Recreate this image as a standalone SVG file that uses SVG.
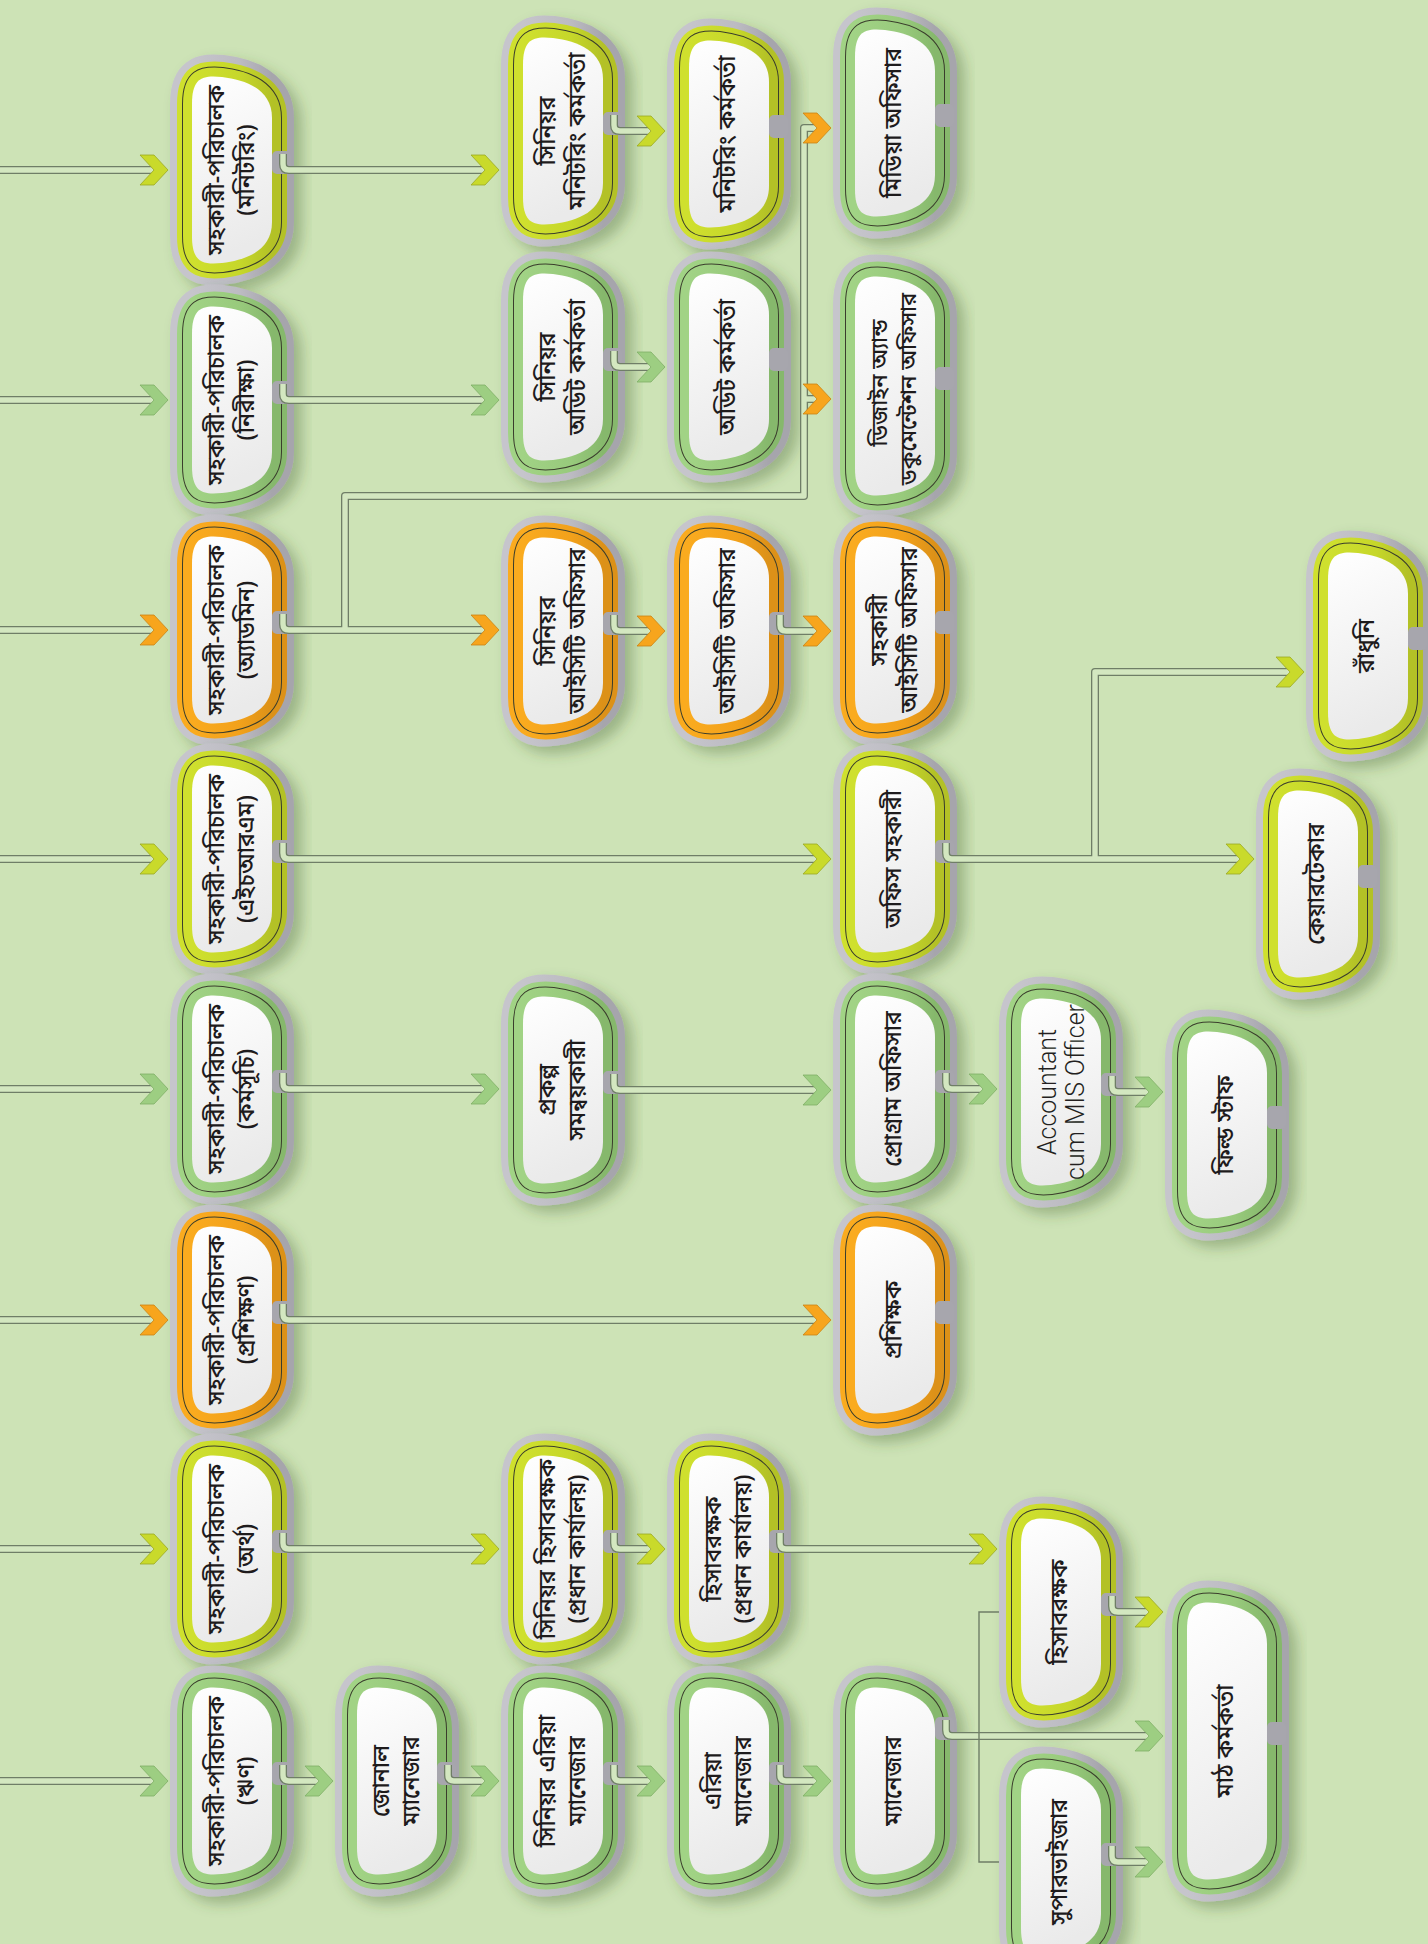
<svg xmlns="http://www.w3.org/2000/svg" width="1428" height="1944" viewBox="0 0 1428 1944">
<style>
  .halo{fill:url(#gHalo);stroke:url(#gHalo);stroke-width:44;stroke-linejoin:round;filter:url(#shadow)}
  .band{fill:none;stroke-width:30;stroke-linejoin:round}
  .band.in{stroke-width:18}
  .rim{fill:none;stroke:#3a3d2c;stroke-width:20;stroke-linejoin:round}
  .face{fill:url(#gFace);stroke:none}
  .notch{fill:#a7a6ad}
  .yellow .band{stroke:url(#gY)}
  .green .band{stroke:url(#gG)}
  .orange .band{stroke:url(#gO)}
  .t{font-family:"Noto Sans Bengali","Noto Serif Bengali","Lohit Bengali","Noto Sans",sans-serif;font-size:23px;font-weight:500;fill:#1e1b1c;text-anchor:middle;dominant-baseline:central}
  .t.sm{font-size:22px}
  .en{font-family:Roboto,"Open Sans",sans-serif;font-weight:300;font-size:25px;fill:#231f20;text-anchor:middle;dominant-baseline:central}
  .pipe-o{fill:none;stroke:#6f7e67;stroke-width:8;stroke-linejoin:round}
  .pipe-i{fill:none;stroke:#d3e7c0;stroke-width:5.4;stroke-linejoin:round}
  .bracket{fill:none;stroke:#6f7e67;stroke-width:1.4}
  .ay{fill:#c9da2b;stroke:#9aa823;stroke-width:0.8}
  .ag{fill:#9dce82;stroke:#7fae66;stroke-width:0.8}
  .ao{fill:#f7a51d;stroke:#c98414;stroke-width:0.8}
</style>
<defs>
  <linearGradient id="gHalo" x1="0" y1="0" x2="1" y2="0">
    <stop offset="0" stop-color="#c6c5cc"/><stop offset="0.6" stop-color="#bcbbc2"/><stop offset="1" stop-color="#a6a5ac"/>
  </linearGradient>
  <linearGradient id="gY" x1="0" y1="0" x2="1" y2="0">
    <stop offset="0" stop-color="#cfe02e"/><stop offset="0.6" stop-color="#c6d72a"/><stop offset="1" stop-color="#b3c126"/>
  </linearGradient>
  <linearGradient id="gG" x1="0" y1="0" x2="1" y2="0">
    <stop offset="0" stop-color="#a1d385"/><stop offset="0.6" stop-color="#98ca7c"/><stop offset="1" stop-color="#86b86c"/>
  </linearGradient>
  <linearGradient id="gO" x1="0" y1="0" x2="1" y2="0">
    <stop offset="0" stop-color="#faab1f"/><stop offset="0.6" stop-color="#f2a11b"/><stop offset="1" stop-color="#dc9118"/>
  </linearGradient>
  <linearGradient id="gFace" x1="0" y1="0" x2="0.2" y2="1">
    <stop offset="0" stop-color="#ffffff"/><stop offset="1" stop-color="#eaeaea"/>
  </linearGradient>
  <filter id="shadow" x="-40%" y="-25%" width="190%" height="160%">
    <feDropShadow dx="8" dy="7" stdDeviation="7" flood-color="#3d5a2a" flood-opacity="0.35"/>
  </filter>
  <!-- node outline, centred on 0,0; the number is half the height of the inner face -->
  <path id="s94" d="M-40,-66 C-40,-92 -30,-95 -10,-93 C15,-90 40,-80 40,-52 V52 C40,80 15,90 -10,93 C-30,95 -40,92 -40,66 Z"/>
  <path id="s110" d="M-40,-82 C-40,-108 -30,-111 -10,-109 C15,-106 40,-96 40,-68 V68 C40,96 15,106 -10,109 C-30,111 -40,108 -40,82 Z"/>
  <path id="s139" d="M-40,-111 C-40,-137 -30,-140 -10,-138 C15,-135 40,-125 40,-97 V97 C40,125 15,135 -10,138 C-30,140 -40,137 -40,111 Z"/>
  <!-- gap in the coloured band where the outgoing line leaves -->
  <rect id="gap" x="40" y="-19" width="19" height="23" rx="5"/>
  <!-- chevron arrowhead, tip at 0,0 -->
  <polygon id="chev" points="-28,-15 -14,-15 0,0 -14,15 -28,15 -14,0"/>
  <!-- connector centre lines -->
  <g id="pipes">
    <path d="M0,170 H154"/><path d="M0,400 H154"/><path d="M0,630 H154"/><path d="M0,859 H154"/>
    <path d="M0,1089 H154"/><path d="M0,1320 H154"/><path d="M0,1549 H154"/><path d="M0,1781 H154"/>
    <path d="M283,154 V164 Q283,170 289,170 H485"/>
    <path d="M614,115 V125 Q614,131 620,131 H651"/>
    <path d="M283,384 V394 Q283,400 289,400 H485"/>
    <path d="M614,351 V361 Q614,367 620,367 H651"/>
    <path d="M283,614 V624 Q283,630 289,630 H485"/>
    <path d="M345,630 V496 H804 V128 H817"/>
    <path d="M804,399 H817"/>
    <path d="M614,615 V625 Q614,631 620,631 H651"/>
    <path d="M780,615 V625 Q780,631 786,631 H817"/>
    <path d="M283,843 V853 Q283,859 289,859 H817"/>
    <path d="M946,843 V853 Q946,859 952,859 H1240"/>
    <path d="M1095,859 V672 H1290"/>
    <path d="M283,1073 V1083 Q283,1089 289,1089 H485"/>
    <path d="M614,1074 V1084 Q614,1090 620,1090 H817"/>
    <path d="M946,1073 V1083 Q946,1089 952,1089 H983"/>
    <path d="M1112,1076 V1086 Q1112,1092 1118,1092 H1149"/>
    <path d="M283,1304 V1314 Q283,1320 289,1320 H817"/>
    <path d="M283,1533 V1543 Q283,1549 289,1549 H485"/>
    <path d="M614,1533 V1543 Q614,1549 620,1549 H651"/>
    <path d="M780,1533 V1543 Q780,1549 786,1549 H983"/>
    <path d="M1112,1596 V1606 Q1112,1612 1118,1612 H1149"/>
    <path d="M283,1765 V1775 Q283,1781 289,1781 H319"/>
    <path d="M448,1765 V1775 Q448,1781 454,1781 H485"/>
    <path d="M614,1765 V1775 Q614,1781 620,1781 H651"/>
    <path d="M780,1765 V1775 Q780,1781 786,1781 H817"/>
    <path d="M946,1720 V1730 Q946,1736 952,1736 H1149"/>
    <path d="M1112,1846 V1856 Q1112,1862 1118,1862 H1149"/>
  </g>
</defs>

<rect width="1428" height="1944" fill="#cde3b6"/>

<!-- nodes -->
<g id="nodes">
  <g id="n-ad-monitoring" class="yellow" transform="translate(232,170)">
    <use href="#s94" class="halo"/><use href="#s94" class="band"/><use href="#s94" class="rim"/><use href="#s94" class="band in"/><use href="#s94" class="face"/>
    <use href="#gap" class="notch"/>
    <text class="t" transform="rotate(-90)"><tspan x="0" y="-14">সহকারী-পরিচালক</tspan><tspan x="0" y="16">(মনিটরিং)</tspan></text>
  </g>
  <g id="n-ad-audit" class="green" transform="translate(232,400)">
    <use href="#s94" class="halo"/><use href="#s94" class="band"/><use href="#s94" class="rim"/><use href="#s94" class="band in"/><use href="#s94" class="face"/>
    <use href="#gap" class="notch"/>
    <text class="t" transform="rotate(-90)"><tspan x="0" y="-14">সহকারী-পরিচালক</tspan><tspan x="0" y="16">(নিরীক্ষা)</tspan></text>
  </g>
  <g id="n-ad-admin" class="orange" transform="translate(232,630)">
    <use href="#s94" class="halo"/><use href="#s94" class="band"/><use href="#s94" class="rim"/><use href="#s94" class="band in"/><use href="#s94" class="face"/>
    <use href="#gap" class="notch"/>
    <text class="t" transform="rotate(-90)"><tspan x="0" y="-14">সহকারী-পরিচালক</tspan><tspan x="0" y="16">(অ্যাডমিন)</tspan></text>
  </g>
  <g id="n-ad-hrm" class="yellow" transform="translate(232,859)">
    <use href="#s94" class="halo"/><use href="#s94" class="band"/><use href="#s94" class="rim"/><use href="#s94" class="band in"/><use href="#s94" class="face"/>
    <use href="#gap" class="notch"/>
    <text class="t" transform="rotate(-90)"><tspan x="0" y="-14">সহকারী-পরিচালক</tspan><tspan x="0" y="16">(এইচআরএম)</tspan></text>
  </g>
  <g id="n-ad-program" class="green" transform="translate(232,1089)">
    <use href="#s94" class="halo"/><use href="#s94" class="band"/><use href="#s94" class="rim"/><use href="#s94" class="band in"/><use href="#s94" class="face"/>
    <use href="#gap" class="notch"/>
    <text class="t" transform="rotate(-90)"><tspan x="0" y="-14">সহকারী-পরিচালক</tspan><tspan x="0" y="16">(কর্মসূচি)</tspan></text>
  </g>
  <g id="n-ad-training" class="orange" transform="translate(232,1320)">
    <use href="#s94" class="halo"/><use href="#s94" class="band"/><use href="#s94" class="rim"/><use href="#s94" class="band in"/><use href="#s94" class="face"/>
    <use href="#gap" class="notch"/>
    <text class="t" transform="rotate(-90)"><tspan x="0" y="-14">সহকারী-পরিচালক</tspan><tspan x="0" y="16">(প্রশিক্ষণ)</tspan></text>
  </g>
  <g id="n-ad-finance" class="yellow" transform="translate(232,1549)">
    <use href="#s94" class="halo"/><use href="#s94" class="band"/><use href="#s94" class="rim"/><use href="#s94" class="band in"/><use href="#s94" class="face"/>
    <use href="#gap" class="notch"/>
    <text class="t" transform="rotate(-90)"><tspan x="0" y="-14">সহকারী-পরিচালক</tspan><tspan x="0" y="16">(অর্থ)</tspan></text>
  </g>
  <g id="n-ad-credit" class="green" transform="translate(232,1781)">
    <use href="#s94" class="halo"/><use href="#s94" class="band"/><use href="#s94" class="rim"/><use href="#s94" class="band in"/><use href="#s94" class="face"/>
    <use href="#gap" class="notch"/>
    <text class="t" transform="rotate(-90)"><tspan x="0" y="-14">সহকারী-পরিচালক</tspan><tspan x="0" y="16">(ঋণ)</tspan></text>
  </g>

  <g id="n-zonal-manager" class="green" transform="translate(397,1781)">
    <use href="#s94" class="halo"/><use href="#s94" class="band"/><use href="#s94" class="rim"/><use href="#s94" class="band in"/><use href="#s94" class="face"/>
    <use href="#gap" class="notch"/>
    <text class="t" transform="rotate(-90)"><tspan x="0" y="-14">জোনাল</tspan><tspan x="0" y="16">ম্যানেজার</tspan></text>
  </g>

  <g id="n-sr-monitoring" class="yellow" transform="translate(563,131)">
    <use href="#s94" class="halo"/><use href="#s94" class="band"/><use href="#s94" class="rim"/><use href="#s94" class="band in"/><use href="#s94" class="face"/>
    <use href="#gap" class="notch"/>
    <text class="t" transform="rotate(-90)"><tspan x="0" y="-14">সিনিয়র</tspan><tspan x="0" y="16">মনিটরিং কর্মকর্তা</tspan></text>
  </g>
  <g id="n-sr-audit" class="green" transform="translate(563,367)">
    <use href="#s94" class="halo"/><use href="#s94" class="band"/><use href="#s94" class="rim"/><use href="#s94" class="band in"/><use href="#s94" class="face"/>
    <use href="#gap" class="notch"/>
    <text class="t" transform="rotate(-90)"><tspan x="0" y="-14">সিনিয়র</tspan><tspan x="0" y="16">অডিট কর্মকর্তা</tspan></text>
  </g>
  <g id="n-sr-ict" class="orange" transform="translate(563,631)">
    <use href="#s94" class="halo"/><use href="#s94" class="band"/><use href="#s94" class="rim"/><use href="#s94" class="band in"/><use href="#s94" class="face"/>
    <use href="#gap" class="notch"/>
    <text class="t" transform="rotate(-90)"><tspan x="0" y="-14">সিনিয়র</tspan><tspan x="0" y="16">আইসিটি অফিসার</tspan></text>
  </g>
  <g id="n-coordinator" class="green" transform="translate(563,1090)">
    <use href="#s94" class="halo"/><use href="#s94" class="band"/><use href="#s94" class="rim"/><use href="#s94" class="band in"/><use href="#s94" class="face"/>
    <use href="#gap" class="notch"/>
    <text class="t" transform="rotate(-90)"><tspan x="0" y="-14">প্রকল্প</tspan><tspan x="0" y="16">সমন্বয়কারী</tspan></text>
  </g>
  <g id="n-sr-accountant-ho" class="yellow" transform="translate(563,1549)">
    <use href="#s94" class="halo"/><use href="#s94" class="band"/><use href="#s94" class="rim"/><use href="#s94" class="band in"/><use href="#s94" class="face"/>
    <use href="#gap" class="notch"/>
    <text class="t" transform="rotate(-90)"><tspan x="0" y="-14">সিনিয়র হিসাবরক্ষক</tspan><tspan x="0" y="16">(প্রধান কার্যালয়)</tspan></text>
  </g>
  <g id="n-sr-area-manager" class="green" transform="translate(563,1781)">
    <use href="#s94" class="halo"/><use href="#s94" class="band"/><use href="#s94" class="rim"/><use href="#s94" class="band in"/><use href="#s94" class="face"/>
    <use href="#gap" class="notch"/>
    <text class="t" transform="rotate(-90)"><tspan x="0" y="-14">সিনিয়র এরিয়া</tspan><tspan x="0" y="16">ম্যানেজার</tspan></text>
  </g>

  <g id="n-monitoring-officer" class="yellow" transform="translate(729,134)">
    <use href="#s94" class="halo"/><use href="#s94" class="band"/><use href="#s94" class="rim"/><use href="#s94" class="band in"/><use href="#s94" class="face"/>
    <use href="#gap" class="notch"/>
    <text class="t" transform="rotate(-90)" y="0">মনিটরিং কর্মকর্তা</text>
  </g>
  <g id="n-audit-officer" class="green" transform="translate(729,367)">
    <use href="#s94" class="halo"/><use href="#s94" class="band"/><use href="#s94" class="rim"/><use href="#s94" class="band in"/><use href="#s94" class="face"/>
    <use href="#gap" class="notch"/>
    <text class="t" transform="rotate(-90)" y="0">অডিট কর্মকর্তা</text>
  </g>
  <g id="n-ict-officer" class="orange" transform="translate(729,631)">
    <use href="#s94" class="halo"/><use href="#s94" class="band"/><use href="#s94" class="rim"/><use href="#s94" class="band in"/><use href="#s94" class="face"/>
    <use href="#gap" class="notch"/>
    <text class="t" transform="rotate(-90)" y="0">আইসিটি অফিসার</text>
  </g>
  <g id="n-accountant-ho" class="yellow" transform="translate(729,1549)">
    <use href="#s94" class="halo"/><use href="#s94" class="band"/><use href="#s94" class="rim"/><use href="#s94" class="band in"/><use href="#s94" class="face"/>
    <use href="#gap" class="notch"/>
    <text class="t" transform="rotate(-90)"><tspan x="0" y="-14">হিসাবরক্ষক</tspan><tspan x="0" y="16">(প্রধান কার্যালয়)</tspan></text>
  </g>
  <g id="n-area-manager" class="green" transform="translate(729,1781)">
    <use href="#s94" class="halo"/><use href="#s94" class="band"/><use href="#s94" class="rim"/><use href="#s94" class="band in"/><use href="#s94" class="face"/>
    <use href="#gap" class="notch"/>
    <text class="t" transform="rotate(-90)"><tspan x="0" y="-14">এরিয়া</tspan><tspan x="0" y="16">ম্যানেজার</tspan></text>
  </g>

  <g id="n-media-officer" class="green" transform="translate(895,123)">
    <use href="#s94" class="halo"/><use href="#s94" class="band"/><use href="#s94" class="rim"/><use href="#s94" class="band in"/><use href="#s94" class="face"/>
    <use href="#gap" class="notch"/>
    <text class="t" transform="rotate(-90)" y="0">মিডিয়া অফিসার</text>
  </g>
  <g id="n-design-officer" class="green" transform="translate(895,386)">
    <use href="#s110" class="halo"/><use href="#s110" class="band"/><use href="#s110" class="rim"/><use href="#s110" class="band in"/><use href="#s110" class="face"/>
    <use href="#gap" class="notch"/>
    <text class="t sm" transform="rotate(-90)"><tspan x="3" y="-14">ডিজাইন অ্যান্ড</tspan><tspan x="-3" y="15">ডকুমেন্টেশন অফিসার</tspan></text>
  </g>
  <g id="n-asst-ict" class="orange" transform="translate(895,630)">
    <use href="#s94" class="halo"/><use href="#s94" class="band"/><use href="#s94" class="rim"/><use href="#s94" class="band in"/><use href="#s94" class="face"/>
    <use href="#gap" class="notch"/>
    <text class="t" transform="rotate(-90)"><tspan x="0" y="-14">সহকারী</tspan><tspan x="0" y="16">আইসিটি অফিসার</tspan></text>
  </g>
  <g id="n-office-asst" class="yellow" transform="translate(895,859)">
    <use href="#s94" class="halo"/><use href="#s94" class="band"/><use href="#s94" class="rim"/><use href="#s94" class="band in"/><use href="#s94" class="face"/>
    <use href="#gap" class="notch"/>
    <text class="t" transform="rotate(-90)" y="0">অফিস সহকারী</text>
  </g>
  <g id="n-program-officer" class="green" transform="translate(895,1089)">
    <use href="#s94" class="halo"/><use href="#s94" class="band"/><use href="#s94" class="rim"/><use href="#s94" class="band in"/><use href="#s94" class="face"/>
    <use href="#gap" class="notch"/>
    <text class="t" transform="rotate(-90)" y="0">প্রোগ্রাম অফিসার</text>
  </g>
  <g id="n-trainer" class="orange" transform="translate(895,1320)">
    <use href="#s94" class="halo"/><use href="#s94" class="band"/><use href="#s94" class="rim"/><use href="#s94" class="band in"/><use href="#s94" class="face"/>
    <use href="#gap" class="notch"/>
    <text class="t" transform="rotate(-90)" y="0">প্রশিক্ষক</text>
  </g>
  <g id="n-manager" class="green" transform="translate(895,1781)">
    <use href="#s94" class="halo"/><use href="#s94" class="band"/><use href="#s94" class="rim"/><use href="#s94" class="band in"/><use href="#s94" class="face"/>
    <use href="#gap" class="notch" y="-45"/>
    <text class="t" transform="rotate(-90)" y="0">ম্যানেজার</text>
  </g>

  <g id="n-accountant-mis" class="green" transform="translate(1061,1092)">
    <use href="#s94" class="halo"/><use href="#s94" class="band"/><use href="#s94" class="rim"/><use href="#s94" class="band in"/><use href="#s94" class="face"/>
    <use href="#gap" class="notch"/>
    <text class="en" transform="rotate(-90)"><tspan x="0" y="-14">Accountant</tspan><tspan x="0" y="14">cum MIS Officer</tspan></text>
  </g>
  <g id="n-accountant" class="yellow" transform="translate(1061,1612)">
    <use href="#s94" class="halo"/><use href="#s94" class="band"/><use href="#s94" class="rim"/><use href="#s94" class="band in"/><use href="#s94" class="face"/>
    <use href="#gap" class="notch"/>
    <text class="t" transform="rotate(-90)" y="0">হিসাবরক্ষক</text>
  </g>
  <g id="n-supervisor" class="green" transform="translate(1061,1862)">
    <use href="#s94" class="halo"/><use href="#s94" class="band"/><use href="#s94" class="rim"/><use href="#s94" class="band in"/><use href="#s94" class="face"/>
    <use href="#gap" class="notch"/>
    <text class="t" transform="rotate(-90)" y="0">সুপারভাইজার</text>
  </g>

  <g id="n-field-staff" class="green" transform="translate(1227,1125)">
    <use href="#s94" class="halo"/><use href="#s94" class="band"/><use href="#s94" class="rim"/><use href="#s94" class="band in"/><use href="#s94" class="face"/>
    <use href="#gap" class="notch"/>
    <text class="t" transform="rotate(-90)" y="0">ফিল্ড স্টাফ</text>
  </g>
  <g id="n-field-officer" class="green" transform="translate(1227,1741)">
    <use href="#s139" class="halo"/><use href="#s139" class="band"/><use href="#s139" class="rim"/><use href="#s139" class="band in"/><use href="#s139" class="face"/>
    <use href="#gap" class="notch"/>
    <text class="t" transform="rotate(-90)" y="0">মাঠ কর্মকর্তা</text>
  </g>
  <g id="n-caretaker" class="yellow" transform="translate(1318,884)">
    <use href="#s94" class="halo"/><use href="#s94" class="band"/><use href="#s94" class="rim"/><use href="#s94" class="band in"/><use href="#s94" class="face"/>
    <use href="#gap" class="notch"/>
    <text class="t" transform="rotate(-90)" y="0">কেয়ারটেকার</text>
  </g>
  <g id="n-cook" class="yellow" transform="translate(1368,646)">
    <use href="#s94" class="halo"/><use href="#s94" class="band"/><use href="#s94" class="rim"/><use href="#s94" class="band in"/><use href="#s94" class="face"/>
    <use href="#gap" class="notch"/>
    <text class="t" transform="rotate(-90)" y="0">রাঁধুনি</text>
  </g>
</g>

<!-- connectors: double-line pipes, chevron heads, bracket -->
<g id="connectors">
  <use href="#pipes" class="pipe-o"/>
  <use href="#pipes" class="pipe-i"/>
  <path class="bracket" d="M999,1612 H979 V1862 H999"/>
  <use href="#chev" class="ay" transform="translate(168,170)"/>
  <use href="#chev" class="ag" transform="translate(168,400)"/>
  <use href="#chev" class="ao" transform="translate(168,630)"/>
  <use href="#chev" class="ay" transform="translate(168,859)"/>
  <use href="#chev" class="ag" transform="translate(168,1089)"/>
  <use href="#chev" class="ao" transform="translate(168,1320)"/>
  <use href="#chev" class="ay" transform="translate(168,1549)"/>
  <use href="#chev" class="ag" transform="translate(168,1781)"/>
  <use href="#chev" class="ay" transform="translate(499,170)"/>
  <use href="#chev" class="ay" transform="translate(665,131)"/>
  <use href="#chev" class="ag" transform="translate(499,400)"/>
  <use href="#chev" class="ag" transform="translate(665,367)"/>
  <use href="#chev" class="ao" transform="translate(499,630)"/>
  <use href="#chev" class="ao" transform="translate(831,128)"/>
  <use href="#chev" class="ao" transform="translate(831,399)"/>
  <use href="#chev" class="ao" transform="translate(665,631)"/>
  <use href="#chev" class="ao" transform="translate(831,631)"/>
  <use href="#chev" class="ay" transform="translate(831,859)"/>
  <use href="#chev" class="ay" transform="translate(1254,859)"/>
  <use href="#chev" class="ay" transform="translate(1304,672)"/>
  <use href="#chev" class="ag" transform="translate(499,1089)"/>
  <use href="#chev" class="ag" transform="translate(831,1090)"/>
  <use href="#chev" class="ag" transform="translate(997,1089)"/>
  <use href="#chev" class="ag" transform="translate(1163,1092)"/>
  <use href="#chev" class="ao" transform="translate(831,1320)"/>
  <use href="#chev" class="ay" transform="translate(499,1549)"/>
  <use href="#chev" class="ay" transform="translate(665,1549)"/>
  <use href="#chev" class="ay" transform="translate(997,1549)"/>
  <use href="#chev" class="ay" transform="translate(1163,1612)"/>
  <use href="#chev" class="ag" transform="translate(333,1781)"/>
  <use href="#chev" class="ag" transform="translate(499,1781)"/>
  <use href="#chev" class="ag" transform="translate(665,1781)"/>
  <use href="#chev" class="ag" transform="translate(831,1781)"/>
  <use href="#chev" class="ag" transform="translate(1163,1736)"/>
  <use href="#chev" class="ag" transform="translate(1163,1862)"/>
</g>
</svg>
